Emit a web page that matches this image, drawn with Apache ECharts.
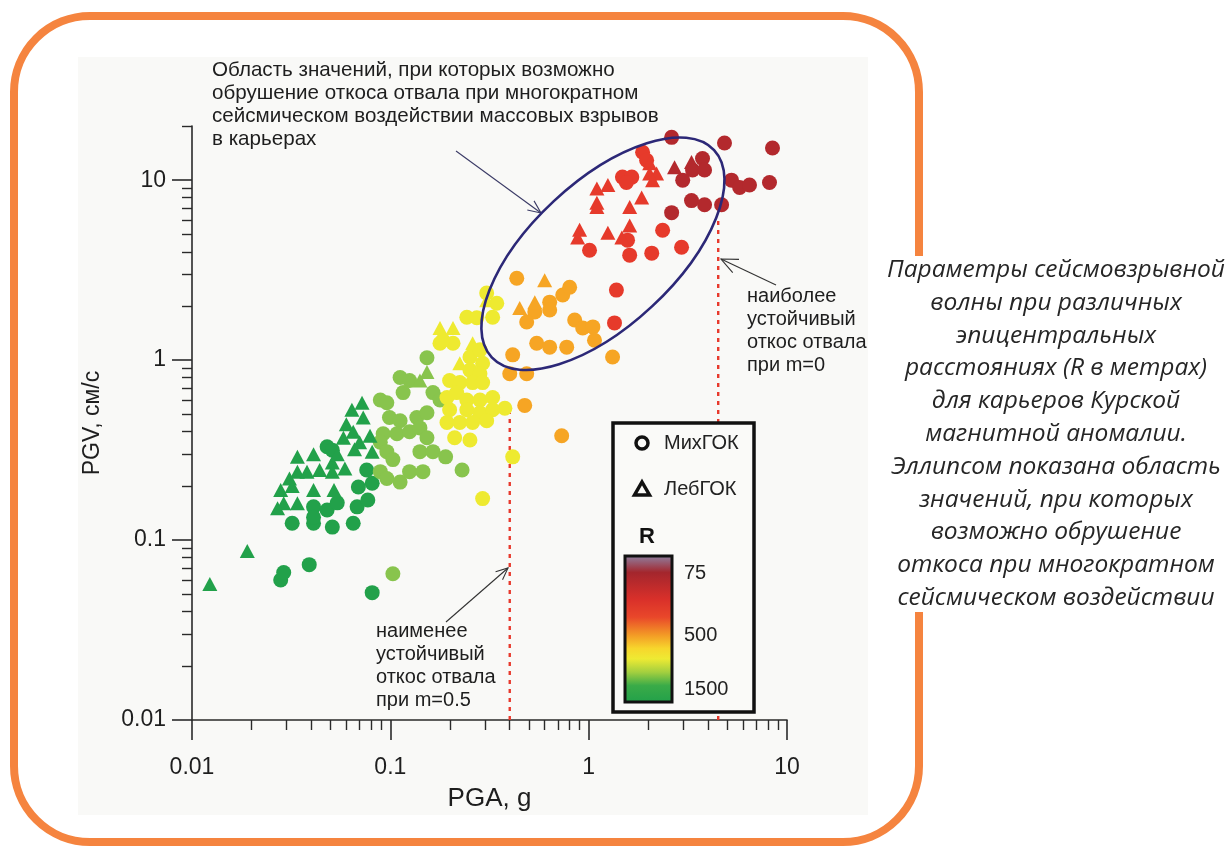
<!DOCTYPE html>
<html>
<head>
<meta charset="utf-8">
<script src="https://cdn.jsdelivr.net/npm/echarts@6/dist/echarts.min.js"></script>
<style>
  html, body { margin: 0; padding: 0; background: #ffffff; }
  #chart { width: 1228px; height: 848px; }
</style>
</head>
<body>
<div id="chart"></div>
<script>
// ---- axis ticks ----
const pgaMajorTicks = [0.01, 0.1, 1, 10];
const pgaMinorTicks = [0.02, 0.03, 0.04, 0.05, 0.06, 0.07, 0.08, 0.09,
                       0.2, 0.3, 0.4, 0.5, 0.6, 0.7, 0.8, 0.9,
                       2, 3, 4, 5, 6, 7, 8, 9];
const pgvMajorTicks = [0.01, 0.1, 1, 10];
const pgvMinorTicks = [0.02, 0.03, 0.04, 0.05, 0.06, 0.07, 0.08, 0.09,
                       0.2, 0.3, 0.4, 0.5, 0.6, 0.7, 0.8, 0.9,
                       2, 3, 4, 5, 6, 7, 8, 9, 20];

// ---- observations: [PGA (g), PGV (cm/s), R (m)] ----
// Mikhailovsky GOK (circles)
const mikhGok = [
  // R ~ 1500 m
  [0.028, 0.060, 1450], [0.029, 0.066, 1450], [0.039, 0.073, 1450], [0.081, 0.051, 1450],
  [0.032, 0.124, 1450], [0.041, 0.124, 1450], [0.051, 0.118, 1450], [0.065, 0.124, 1450],
  [0.041, 0.153, 1450], [0.048, 0.147, 1450], [0.054, 0.161, 1450], [0.068, 0.153, 1450],
  [0.077, 0.167, 1450], [0.069, 0.197, 1450], [0.081, 0.207, 1450], [0.076, 0.245, 1450],
  [0.041, 0.134, 1450], [0.048, 0.33, 1450], [0.051, 0.316, 1450],
  // R ~ 1100 m
  [0.103, 0.065, 1100], [0.153, 1.03, 1100], [0.112, 0.80, 1100], [0.125, 0.77, 1100],
  [0.116, 0.66, 1100], [0.164, 0.66, 1100], [0.178, 0.60, 1100], [0.089, 0.60, 1100],
  [0.096, 0.58, 1100], [0.099, 0.48, 1100], [0.112, 0.46, 1100], [0.136, 0.48, 1100],
  [0.153, 0.51, 1100], [0.092, 0.39, 1100], [0.108, 0.39, 1100], [0.125, 0.40, 1100],
  [0.141, 0.42, 1100], [0.153, 0.37, 1100], [0.089, 0.35, 1100], [0.096, 0.31, 1100],
  [0.141, 0.31, 1100], [0.164, 0.31, 1100], [0.103, 0.28, 1100], [0.089, 0.24, 1100],
  [0.096, 0.22, 1100], [0.112, 0.21, 1100], [0.125, 0.24, 1100], [0.146, 0.24, 1100],
  [0.19, 0.29, 1100], [0.23, 0.245, 1100],
  // R ~ 750 m
  [0.178, 1.24, 750], [0.207, 1.24, 750], [0.243, 1.73, 750], [0.273, 1.72, 750],
  [0.328, 1.73, 750], [0.344, 2.07, 750], [0.306, 2.36, 750], [0.252, 1.04, 750],
  [0.283, 1.14, 750], [0.292, 0.96, 750], [0.252, 0.88, 750], [0.283, 0.84, 750],
  [0.199, 0.77, 750], [0.224, 0.75, 750], [0.260, 0.75, 750], [0.292, 0.75, 750],
  [0.193, 0.62, 750], [0.216, 0.66, 750], [0.243, 0.60, 750], [0.283, 0.60, 750],
  [0.328, 0.62, 750], [0.199, 0.53, 750], [0.243, 0.53, 750], [0.283, 0.51, 750],
  [0.328, 0.53, 750], [0.193, 0.45, 750], [0.224, 0.45, 750], [0.260, 0.45, 750],
  [0.306, 0.46, 750], [0.378, 0.54, 750], [0.211, 0.37, 750], [0.252, 0.36, 750],
  [0.414, 0.29, 750], [0.292, 0.17, 750], [0.184, 1.29, 750],
  // R ~ 450 m
  [0.434, 2.85, 450], [0.535, 1.85, 450], [0.636, 2.10, 450], [0.636, 1.90, 450],
  [0.740, 2.30, 450], [0.802, 2.54, 450], [0.487, 1.63, 450], [0.850, 1.67, 450],
  [0.933, 1.51, 450], [1.05, 1.53, 450], [1.07, 1.29, 450], [0.547, 1.24, 450],
  [0.636, 1.18, 450], [0.775, 1.18, 450], [0.414, 1.07, 450], [0.40, 0.84, 450],
  [0.487, 0.84, 450], [1.32, 1.04, 450], [0.476, 0.56, 450], [0.731, 0.38, 450],
  // R ~ 200 m
  [1.87, 14.3, 200], [1.96, 12.9, 200], [1.48, 10.4, 200], [1.65, 10.4, 200],
  [1.55, 9.7, 200], [1.01, 4.08, 200], [1.61, 3.83, 200], [2.08, 3.93, 200],
  [1.57, 4.64, 200], [2.36, 5.27, 200], [2.94, 4.24, 200], [1.38, 2.45, 200],
  [1.35, 1.61, 200],
  // R ~ 90 m
  [2.62, 17.3, 90], [4.84, 16.1, 90], [8.45, 15.1, 90], [3.75, 13.2, 90],
  [3.34, 11.4, 90], [3.84, 11.4, 90], [2.98, 10.0, 90], [5.25, 10.0, 90],
  [5.77, 9.1, 90], [6.47, 9.4, 90], [8.16, 9.7, 90], [3.30, 7.7, 90],
  [3.84, 7.3, 90], [4.68, 7.3, 90], [2.62, 6.6, 90]
];

// Lebedinsky GOK (triangles)
const lebGok = [
  // R ~ 1500 m
  [0.0123, 0.057, 1450], [0.019, 0.087, 1450], [0.034, 0.29, 1450], [0.041, 0.30, 1450],
  [0.034, 0.24, 1450], [0.038, 0.24, 1450], [0.028, 0.19, 1450], [0.032, 0.20, 1450],
  [0.041, 0.19, 1450], [0.029, 0.16, 1450], [0.027, 0.15, 1450], [0.034, 0.16, 1450],
  [0.051, 0.27, 1450], [0.051, 0.24, 1450], [0.059, 0.25, 1450], [0.052, 0.19, 1450],
  [0.066, 0.32, 1450], [0.081, 0.31, 1450], [0.072, 0.58, 1450], [0.064, 0.53, 1450],
  [0.073, 0.48, 1450], [0.060, 0.44, 1450], [0.065, 0.40, 1450], [0.079, 0.38, 1450],
  [0.058, 0.37, 1450], [0.070, 0.35, 1450], [0.054, 0.30, 1450], [0.031, 0.22, 1450],
  [0.044, 0.245, 1450],
  // R ~ 1100 m
  [0.153, 0.86, 1100], [0.141, 0.77, 1100],
  // R ~ 750 m
  [0.178, 1.51, 750], [0.207, 1.51, 750], [0.260, 1.24, 750], [0.224, 0.96, 750],
  [0.306, 2.15, 750],
  // R ~ 450 m
  [0.600, 2.78, 450], [0.449, 1.95, 450], [0.535, 2.10, 450],
  // R ~ 200 m
  [1.10, 9.0, 200], [1.25, 9.4, 200], [1.10, 7.5, 200], [1.10, 7.1, 200],
  [1.61, 7.1, 200], [1.85, 8.0, 200], [0.90, 5.3, 200], [0.88, 4.8, 200],
  [1.25, 5.1, 200], [1.61, 5.6, 200], [1.47, 4.8, 200], [2.03, 12.4, 200],
  [2.03, 10.9, 200], [2.20, 10.9, 200], [2.10, 10.0, 200],
  // R ~ 90 m
  [3.30, 12.6, 90], [2.71, 11.8, 90]
];

// slope stability limits: PGA threshold and the top of the marker line
const slopeLimits = [
  { pga: 0.4, pgvTop: 0.51 },   // m = 0.5
  { pga: 4.5, pgvTop: 6.2 }     // m = 0
];

// centre of the hazard ellipse, in data units [PGA, PGV]
const hazardCentre = [1.18, 3.9];

// legend labels
const seriesNames = ['МихГОК', 'ЛебГОК'];
const rLegendLabels = ['75', '500', '1500'];

// ---- drawing ----
const FONT = '"Liberation Sans", Arial, Helvetica, sans-serif';
const INK = '#1e1e1e';
const chart = echarts.init(document.getElementById('chart'), null, { renderer: 'canvas' });

const fmtTick = v => String(+(+v).toPrecision(4));

function baseAxis(extra) {
  return Object.assign({
    type: 'log',
    logBase: 10,
    splitLine: { show: false },
    minorTick: { show: false },
    minorSplitLine: { show: false }
  }, extra);
}

function arrow(x1, y1, x2, y2, color, wing) {
  const a = Math.atan2(y2 - y1, x2 - x1);
  const s = 0.42;
  return {
    type: 'group', z: 40,
    children: [
      { type: 'line', shape: { x1, y1, x2, y2 }, style: { stroke: color, lineWidth: 1.1 } },
      { type: 'polyline', shape: { points: [
          [x2 - wing * Math.cos(a - s), y2 - wing * Math.sin(a - s)],
          [x2, y2],
          [x2 - wing * Math.cos(a + s), y2 - wing * Math.sin(a + s)]
        ] }, style: { stroke: color, lineWidth: 1.1, fill: null } }
    ]
  };
}

function txt(text, x, y, size, opts) {
  return {
    type: 'text', z: 40,
    style: Object.assign({
      text, x, y,
      fontSize: size, fontFamily: FONT, fill: INK,
      align: 'left', verticalAlign: 'middle',
      textAlign: 'left', textVerticalAlign: 'middle'
    }, opts || {})
  };
}

const option = {
  backgroundColor: '#ffffff',
  animation: false,
  grid: { left: 192, right: 441, top: 126, bottom: 128 },
  xAxis: [
    baseAxis({
      min: 0.01, max: 10,
      name: 'PGA, g', nameLocation: 'middle', nameGap: 66,
      nameTextStyle: { fontSize: 26, fontFamily: FONT, color: INK },
      axisLine: { show: true, lineStyle: { color: '#2a2a2a', width: 1.6 } },
      axisTick: { show: true, customValues: pgaMajorTicks, length: 20, inside: false,
                  lineStyle: { color: '#2a2a2a', width: 1.6 } },
      axisLabel: { show: true, customValues: pgaMajorTicks, formatter: fmtTick, margin: 36,
                   fontSize: 23, fontFamily: FONT, color: INK }
    }),
    baseAxis({
      min: 0.01, max: 10, position: 'bottom',
      axisLine: { show: false },
      axisTick: { show: true, customValues: pgaMinorTicks, length: 10,
                  lineStyle: { color: '#2a2a2a', width: 1.4 } },
      axisLabel: { show: false }
    })
  ],
  yAxis: [
    baseAxis({
      min: 0.01, max: 20,
      name: 'PGV, см/с', nameLocation: 'middle', nameGap: 88, nameRotate: 90,
      nameTextStyle: { fontSize: 23, fontFamily: FONT, color: INK },
      axisLine: { show: true, lineStyle: { color: '#2a2a2a', width: 1.6 } },
      axisTick: { show: true, customValues: pgvMajorTicks, length: 20, inside: false,
                  lineStyle: { color: '#2a2a2a', width: 1.6 } },
      axisLabel: { show: true, customValues: pgvMajorTicks, formatter: fmtTick, margin: 26,
                   fontSize: 23, fontFamily: FONT, color: INK }
    }),
    baseAxis({
      min: 0.01, max: 20, position: 'left',
      axisLine: { show: false },
      axisTick: { show: true, customValues: pgvMinorTicks, length: 10,
                  lineStyle: { color: '#2a2a2a', width: 1.4 } },
      axisLabel: { show: false }
    })
  ],
  visualMap: {
    type: 'piecewise', show: false, dimension: 2, seriesIndex: [0, 1],
    pieces: [
      { lte: 120, color: '#b3292d' },
      { gt: 120, lte: 300, color: '#e63a2b' },
      { gt: 300, lte: 600, color: '#f6a524' },
      { gt: 600, lte: 950, color: '#eeea30' },
      { gt: 950, lte: 1250, color: '#88c44d' },
      { gt: 1250, color: '#22a14a' }
    ]
  },
  series: [
    { type: 'scatter', name: seriesNames[0], data: mikhGok, symbol: 'circle', symbolSize: 15,
      xAxisIndex: 0, yAxisIndex: 0, z: 3, itemStyle: { opacity: 1 } },
    { type: 'scatter', name: seriesNames[1], data: lebGok, symbol: 'triangle', symbolSize: [15, 14],
      xAxisIndex: 0, yAxisIndex: 0, z: 3, itemStyle: { opacity: 1 } }
  ].concat(slopeLimits.map(s => ({
      type: 'line', xAxisIndex: 0, yAxisIndex: 0, z: 2, silent: true,
      data: [[s.pga, 0.01], [s.pga, s.pgvTop]],
      symbol: 'none',
      lineStyle: { color: '#e8392c', width: 2.4, type: [4, 5] }
  })))
};

chart.setOption(option);

// ---- annotations ----
const c = chart.convertToPixel({ gridIndex: 0 }, hazardCentre);

const graphics = [
  // slide frame and chart panel
  { type: 'rect', z: -5, silent: true, shape: { x: 78, y: 57, width: 790, height: 758 },
    style: { fill: '#f9f9f7' } },
  { type: 'rect', z: 30, silent: true, shape: { x: 14, y: 16, width: 905, height: 826, r: 76 },
    style: { fill: null, stroke: '#f5843f', lineWidth: 8 } },
  { type: 'rect', z: 31, silent: true, shape: { x: 900, y: 256, width: 40, height: 356 },
    style: { fill: '#ffffff' } },

  // hazard ellipse
  { type: 'ellipse', z: 35, x: c[0], y: c[1], rotation: 43 * Math.PI / 180,
    shape: { cx: 0, cy: 0, rx: 152, ry: 72 },
    style: { fill: null, stroke: '#2c2877', lineWidth: 2.6 } },

  // annotations
  txt('Область значений, при которых возможно\nобрушение откоса отвала при многократном\nсейсмическом воздействии массовых взрывов\nв карьерах',
      212, 105, 20.6, { lineHeight: 23 }),
  arrow(456, 151, 541, 213, '#3b3b66', 14),

  txt('наиболее\nустойчивый\nоткос отвала\nпри m=0', 747, 331, 20, { lineHeight: 23 }),
  arrow(776, 285, 721, 259, '#333333', 18),

  txt('наименее\nустойчивый\nоткос отвала\nпри m=0.5', 376, 666, 20, { lineHeight: 23 }),
  arrow(446, 622, 508, 568, '#333333', 13),

  // legend
  { type: 'rect', z: 36, shape: { x: 613, y: 423, width: 141, height: 289 },
    style: { fill: '#fafaf8', stroke: '#111111', lineWidth: 3.5 } },
  { type: 'circle', z: 37, shape: { cx: 642, cy: 443, r: 6 },
    style: { fill: null, stroke: '#111111', lineWidth: 3.5 } },
  txt(seriesNames[0], 664, 443, 20, { fill: '#222' }),
  { type: 'polygon', z: 37, shape: { points: [[642, 482], [649.5, 495], [634.5, 495]] },
    style: { fill: null, stroke: '#111111', lineWidth: 3.5, lineJoin: 'miter' } },
  txt(seriesNames[1], 664, 489, 20, { fill: '#222' }),
  txt('R', 647, 537, 22, { fontWeight: 'bold', align: 'center', textAlign: 'center', fill: '#111' }),
  { type: 'rect', z: 37, shape: { x: 625, y: 556, width: 47, height: 146 },
    style: {
      stroke: '#111111', lineWidth: 3,
      fill: { type: 'linear', x: 0, y: 0, x2: 0, y2: 1, colorStops: [
        { offset: 0.00, color: '#8d86a8' },
        { offset: 0.12, color: '#a3262d' },
        { offset: 0.30, color: '#d9302a' },
        { offset: 0.42, color: '#e9472a' },
        { offset: 0.54, color: '#f39a26' },
        { offset: 0.63, color: '#f7d62c' },
        { offset: 0.70, color: '#eeea33' },
        { offset: 0.79, color: '#a3cf3f' },
        { offset: 0.88, color: '#3aab48' },
        { offset: 1.00, color: '#21a04a' }
      ] }
    } },
  txt(rLegendLabels[0], 684, 573, 20, { fill: '#222' }),
  txt(rLegendLabels[1], 684, 635, 20, { fill: '#222' }),
  txt(rLegendLabels[2], 684, 689, 20, { fill: '#222' }),

  // caption
  txt('Параметры сейсмовзрывной\nволны при различных\nэпицентральных\nрасстояниях (R в метрах)\nдля карьеров Курской\nмагнитной аномалии.\nЭллипсом показана область\nзначений, при которых\nвозможно обрушение\nоткоса при многократном\nсейсмическом воздействии',
      1056, 434, 24.5, { fontFamily: '"Open Sans", sans-serif', fontStyle: 'italic', fill: '#262626',
                       align: 'center', textAlign: 'center', lineHeight: 32.8 })
];

chart.setOption({ graphic: graphics });
</script>
</body>
</html>
